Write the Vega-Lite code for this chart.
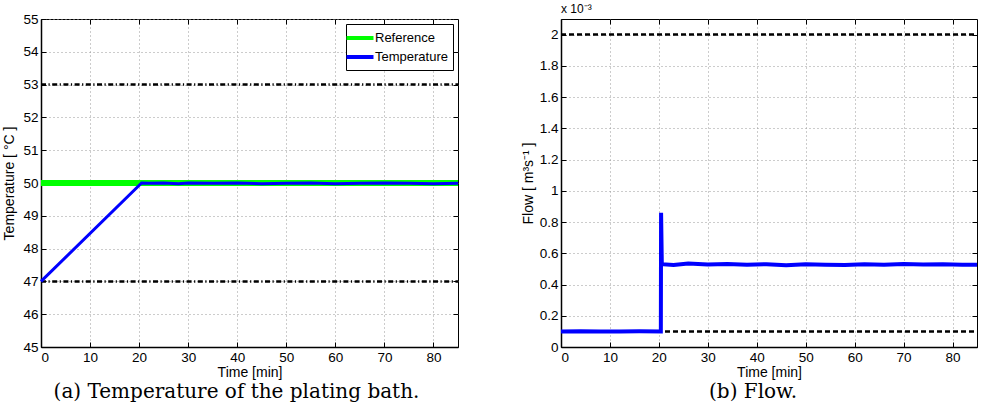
{
  "$schema": "https://vega.github.io/schema/vega-lite/v6.json",
  "padding": {"left": 2, "top": 2, "right": 2, "bottom": 0},
  "bounds": "flush",
  "spacing": 103,
  "background": "white",
  "resolve": {"legend": {"color": "independent"}},
  "config": {
    "font": "Liberation Sans",
    "view": {"stroke": "black", "strokeWidth": 1},
    "axis": {
      "labelFont": "Liberation Sans",
      "labelFontSize": 13.5,
      "labelColor": "black",
      "titleFont": "Liberation Sans",
      "titleFontSize": 14,
      "titleFontWeight": "normal",
      "titleColor": "black",
      "domainColor": "black",
      "domainWidth": 1.5,
      "tickColor": "black",
      "tickSize": -5,
      "labelPadding": 8,
      "gridColor": "#999999",
      "gridDash": [1, 3],
      "gridOpacity": 1,
      "gridWidth": 1
    },
    "legend": {
      "labelFont": "Liberation Sans",
      "labelFontSize": 13,
      "labelColor": "black"
    }
  },
  "hconcat": [
    {
      "width": 417,
      "height": 328,
      "title": {"text": "(a) Temperature of the plating bath.", "orient": "bottom", "font": "DejaVu Serif", "fontSize": 20, "fontWeight": "normal", "color": "black", "frame": "bounds", "anchor": "middle", "offset": 2},
      "resolve": {"axis": {"x": "independent", "y": "independent"}},
      "layer": [
        {
          "data": {"values": [
            {"t": 0, "v": 53, "g": "upper"}, {"t": 85, "v": 53, "g": "upper"},
            {"t": 0, "v": 47, "g": "lower"}, {"t": 85, "v": 47, "g": "lower"}
          ]},
          "mark": {"type": "line", "color": "black", "strokeWidth": 2.5, "strokeDash": [5, 2.5, 1.2, 2.5]},
          "encoding": {
            "x": {"field": "t", "type": "quantitative", "scale": {"domain": [0, 85], "nice": false}, "axis": {"orient": "top", "labels": false, "grid": false, "domain": false, "title": null, "values": [0, 10, 20, 30, 40, 50, 60, 70, 80]}},
            "y": {"field": "v", "type": "quantitative", "scale": {"domain": [45, 55], "nice": false, "zero": false}, "axis": {"orient": "right", "labels": false, "grid": false, "domain": false, "title": null, "values": [45, 46, 47, 48, 49, 50, 51, 52, 53, 54, 55]}},
            "detail": {"field": "g"}
          }
        },
        {
          "data": {"values": [
            {"t": 0, "v": 50, "series": "Reference"}, {"t": 85, "v": 50, "series": "Reference"}
          ]},
          "mark": {"type": "line", "strokeWidth": 6},
          "encoding": {
            "x": {"field": "t", "type": "quantitative", "axis": null},
            "y": {"field": "v", "type": "quantitative", "axis": null},
            "color": {"field": "series", "type": "nominal", "scale": {"domain": ["Reference", "Temperature"], "range": ["#00ff00", "#0000ff"]}}
          }
        },
        {
          "data": {"values": [
            {"t": 0, "v": 47, "series": "Temperature"},
            {"t": 20.5, "v": 50, "series": "Temperature"},
            {"t": 22, "v": 49.99, "series": "Temperature"},
            {"t": 25, "v": 50.0, "series": "Temperature"},
            {"t": 28, "v": 49.98, "series": "Temperature"},
            {"t": 30, "v": 50.0, "series": "Temperature"},
            {"t": 35, "v": 49.99, "series": "Temperature"},
            {"t": 40, "v": 50.0, "series": "Temperature"},
            {"t": 45, "v": 49.98, "series": "Temperature"},
            {"t": 50, "v": 49.99, "series": "Temperature"},
            {"t": 55, "v": 50.0, "series": "Temperature"},
            {"t": 60, "v": 49.98, "series": "Temperature"},
            {"t": 65, "v": 49.99, "series": "Temperature"},
            {"t": 70, "v": 50.0, "series": "Temperature"},
            {"t": 75, "v": 49.99, "series": "Temperature"},
            {"t": 80, "v": 49.98, "series": "Temperature"},
            {"t": 85, "v": 49.99, "series": "Temperature"}
          ]},
          "mark": {"type": "line", "strokeWidth": 3},
          "encoding": {
            "x": {"field": "t", "type": "quantitative", "axis": {"title": "Time [min]", "values": [0, 10, 20, 30, 40, 50, 60, 70, 80], "grid": true, "titlePadding": 2}},
            "y": {"field": "v", "type": "quantitative", "axis": {"title": "Temperature [ °C ]", "values": [45, 46, 47, 48, 49, 50, 51, 52, 53, 54, 55], "grid": true, "titlePadding": 6}},
            "color": {"field": "series", "type": "nominal", "legend": {"title": null, "orient": "top-right", "offset": 5, "strokeColor": "black", "fillColor": "white", "padding": 5, "symbolType": "M-2,0H2", "symbolSize": 182, "symbolStrokeWidth": 4, "labelOffset": 6, "rowPadding": 2}}
          }
        }
      ]
    },
    {
      "width": 416,
      "height": 328,
      "title": {"text": "(b) Flow.", "orient": "bottom", "font": "DejaVu Serif", "fontSize": 20, "fontWeight": "normal", "color": "black", "frame": "bounds", "anchor": "middle", "offset": 2},
      "resolve": {"axis": {"x": "independent", "y": "independent"}},
      "layer": [
        {
          "data": {"values": [
            {"t": 0, "v": 2.0, "g": "upper"}, {"t": 85, "v": 2.0, "g": "upper"},
            {"t": 0, "v": 0.1, "g": "lower"}, {"t": 85, "v": 0.1, "g": "lower"}
          ]},
          "mark": {"type": "line", "color": "black", "strokeWidth": 2.5, "strokeDash": [5, 3]},
          "encoding": {
            "x": {"field": "t", "type": "quantitative", "scale": {"domain": [0, 85], "nice": false}, "axis": {"orient": "top", "labels": false, "grid": false, "domain": false, "title": null, "values": [0, 10, 20, 30, 40, 50, 60, 70, 80]}},
            "y": {"field": "v", "type": "quantitative", "scale": {"domain": [0, 2.1], "nice": false}, "axis": {"orient": "right", "labels": false, "grid": false, "domain": false, "title": null, "values": [0, 0.2, 0.4, 0.6, 0.8, 1, 1.2, 1.4, 1.6, 1.8, 2]}},
            "detail": {"field": "g"}
          }
        },
        {
          "data": {"values": [
            {"t": 0, "v": 0.1},
            {"t": 4, "v": 0.101},
            {"t": 8, "v": 0.099},
            {"t": 12, "v": 0.1},
            {"t": 16, "v": 0.101},
            {"t": 20.4, "v": 0.1},
            {"t": 20.45, "v": 0.86},
            {"t": 20.6, "v": 0.53},
            {"t": 23, "v": 0.525},
            {"t": 26, "v": 0.535},
            {"t": 30, "v": 0.528},
            {"t": 34, "v": 0.532},
            {"t": 38, "v": 0.526},
            {"t": 42, "v": 0.53},
            {"t": 46, "v": 0.524},
            {"t": 50, "v": 0.53},
            {"t": 54, "v": 0.527},
            {"t": 58, "v": 0.525},
            {"t": 62, "v": 0.529},
            {"t": 66, "v": 0.526},
            {"t": 70, "v": 0.532},
            {"t": 74, "v": 0.528},
            {"t": 78, "v": 0.53},
            {"t": 82, "v": 0.526},
            {"t": 85, "v": 0.527}
          ]},
          "mark": {"type": "line", "color": "#0000ff", "strokeWidth": 4},
          "encoding": {
            "x": {"field": "t", "type": "quantitative", "axis": {"title": "Time [min]", "values": [0, 10, 20, 30, 40, 50, 60, 70, 80], "grid": true, "titlePadding": 2}},
            "y": {"field": "v", "type": "quantitative", "axis": {"title": "Flow [ m³s⁻¹ ]", "values": [0, 0.2, 0.4, 0.6, 0.8, 1, 1.2, 1.4, 1.6, 1.8, 2], "format": "~g", "grid": true, "titlePadding": 4}}
          }
        },
        {
          "data": {"values": [{"t": 0, "v": 2.1, "label": "x 10⁻³"}]},
          "mark": {"type": "text", "align": "left", "baseline": "bottom", "dy": -3, "fontSize": 12, "font": "Liberation Sans", "color": "black"},
          "encoding": {
            "x": {"field": "t", "type": "quantitative", "axis": null},
            "y": {"field": "v", "type": "quantitative", "axis": null},
            "text": {"field": "label"}
          }
        }
      ]
    }
  ]
}
